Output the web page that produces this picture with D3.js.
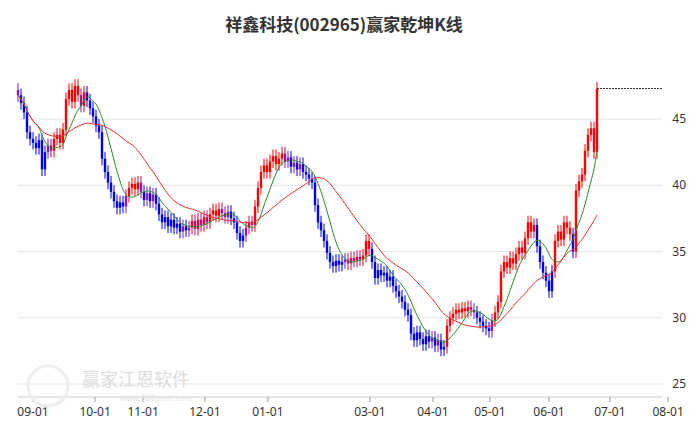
<!DOCTYPE html><html><head><meta charset="utf-8"><script src="https://cdn.jsdelivr.net/npm/d3@7"></script>
<style>body{margin:0;background:#fff}</style></head><body><svg id="c" width="689" height="427"></svg>
<script>
const closes=[46.8,46.2,45.5,44,43.5,43.2,42.8,43.4,41.2,42.5,43.0,42.6,43.5,43.8,43.2,44.2,46.5,47.2,46.3,47.5,46.8,46.0,47.0,46.4,45.8,45.2,44.5,44.0,
42.0,41.0,40.2,39.5,38.8,38.3,38.7,38.4,39.2,39.8,40.1,39.7,40.2,39.5,38.9,39.4,38.8,39.3,38.6,37.8,37.2,37.6,36.9,37.4,36.8,37.1,36.5,36.9,36.6,
36.8,37.3,36.7,37.4,37.0,37.6,37.2,37.8,38.1,37.7,38.2,37.9,37.6,38.0,37.5,37.2,36.4,35.8,36.2,36.8,37.2,37.0,38.4,39.8,41.0,
41.5,41.0,41.8,42.2,41.6,42.0,42.4,41.8,42.1,41.4,41.7,41.2,41.6,41.0,40.8,40.5,40.2,38.5,37.2,36.6,35.8,34.9,34.2,33.9,34.3,34.0,
34.2,34.4,34.1,34.5,34.3,34.6,34.4,34.7,35.8,35.2,34.2,33.0,33.6,33.2,33.4,32.8,33.1,32.4,32.0,31.6,31.2,30.6,30.2,28.8,28.3,28.9,
28.4,28.0,28.6,28.2,28.5,27.9,28.3,27.6,27.8,29.4,30.0,30.3,30.6,30.4,30.7,30.5,30.8,30.6,30.4,30.0,29.7,29.4,29.2,29.0,29.8,30.4,31.2,
33.5,34.2,33.8,34.5,34.1,34.8,35.3,34.9,36.0,37.2,36.5,37.0,35.4,34.2,33.4,32.8,32.0,33.5,35.8,36.5,35.9,37.2,36.8,36.3,35.0,
39.6,40.3,40.8,42.6,43.8,44.3,42.5,47.3];
const firstOpen=47.2;
const yTicks=[25,30,35,40,45];
const xTickLabels=["09-01","10-01","11-01","12-01","01-01","03-01","04-01","05-01","06-01","07-01","08-01"];
const xTickIdx=[5,25.7,41.7,62.3,83.3,117.3,138.3,157.3,177,197.3,216.7];
const title="祥鑫科技(002965)赢家乾坤K线";

const svg=d3.select("#c");
const x=d3.scaleLinear().domain([0,1]).range([18,21]);
const y=d3.scaleLinear().domain([25,45]).range([384,119]);
const data=closes.map((c,i)=>{const o=i?closes[i-1]:firstOpen;return {i,o,c,h:Math.max(o,c)+0.5,l:Math.min(o,c)-0.5};});
function ma(n){return closes.map((c,i)=>{const s=closes.slice(Math.max(0,i-n+1),i+1);return d3.mean(s);});}
const m1=ma(8),m2=ma(24);
svg.selectAll(".g").data(yTicks).join("line").attr("x1",18).attr("x2",662).attr("y1",d=>y(d)).attr("y2",d=>y(d)).attr("stroke","#e6e6e6");
svg.append("line").attr("x1",18).attr("x2",662).attr("y1",397).attr("y2",397).attr("stroke","#ccc");
svg.selectAll(".yt").data(yTicks).join("text").attr("x",686).attr("y",d=>y(d)+4).attr("text-anchor","end").attr("font-size",12).attr("font-family","Noto Sans").attr("fill","#333").text(d=>d);
svg.selectAll(".xt").data(xTickIdx).join("line").attr("x1",d=>x(d)).attr("x2",d=>x(d)).attr("y1",397).attr("y2",402).attr("stroke","#999");
svg.selectAll(".xl").data(xTickIdx).join("text").attr("x",d=>x(d)).attr("y",416).attr("text-anchor","middle").attr("font-size",12).attr("font-family","Noto Sans").attr("fill","#333").text((d,i)=>xTickLabels[i]);
svg.append("text").attr("x",82).attr("y",386).attr("font-size",18).attr("font-family","Noto Sans CJK SC").attr("fill","#ddd").text("赢家江恩软件");
svg.append("circle").attr("cx",48).attr("cy",386).attr("r",20).attr("fill","none").attr("stroke","#eee").attr("stroke-width",3);
svg.append("text").attr("x",120).attr("y",401).attr("font-size",8).attr("font-family","Noto Sans").attr("fill","#e4e4e4").text("www.360gann.com");
const col=d=>{const m=m1[d.i];return d.c>m+0.25?"#ff0000":(d.c<m-0.25?"#0000ee":"#8b1aa8");};
const g=svg.append("g");
g.selectAll(".w").data(data).join("line").attr("x1",d=>x(d.i)).attr("x2",d=>x(d.i)).attr("y1",d=>y(d.h)).attr("y2",d=>y(d.l)).attr("stroke",col).attr("stroke-width",1);
g.selectAll(".b").data(data).join("rect").attr("x",d=>x(d.i)-1.2).attr("width",2.4).attr("y",d=>y(Math.max(d.o,d.c))).attr("height",d=>Math.max(1,Math.abs(y(d.o)-y(d.c)))).attr("fill",col);
const line=d3.line().x((d,i)=>x(i)).y(d=>y(d)).curve(d3.curveBasis);
svg.append("path").attr("d",line(m1)).attr("fill","none").attr("stroke","#2a8a2a").attr("stroke-width",1);
svg.append("path").attr("d",line(m2)).attr("fill","none").attr("stroke","#e83030").attr("stroke-width",1);
const last=closes.length-1;
svg.append("line").attr("x1",x(last)).attr("x2",662).attr("y1",y(closes[last])).attr("y2",y(closes[last])).attr("stroke","#333").attr("stroke-dasharray","2,1");
svg.append("text").attr("x",344).attr("y",31).attr("text-anchor","middle").attr("font-size",17).attr("font-weight","bold").attr("font-family","Noto Sans CJK SC").attr("fill","#333").text(title);
</script></body></html>
